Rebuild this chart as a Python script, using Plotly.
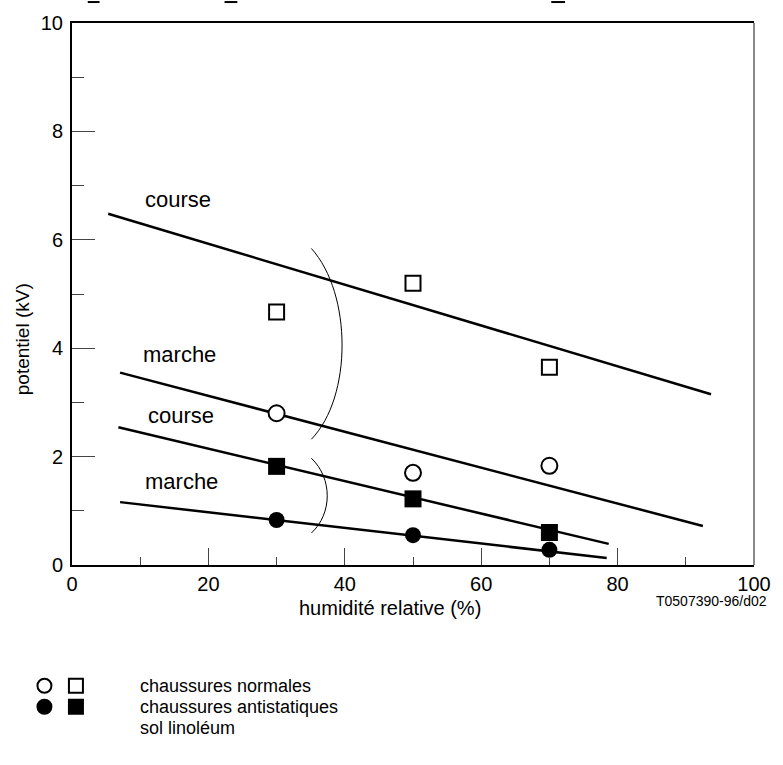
import plotly.graph_objects as go

# ---- data ----
humidity = [30, 50, 70]
normal_course = [4.67, 5.2, 3.65]      # open squares
normal_marche = [2.8, 1.7, 1.83]       # open circles
anti_course = [1.82, 1.22, 0.6]        # filled squares
anti_marche = [0.83, 0.55, 0.28]       # filled circles

# trend lines (start, end)
line_normal_course_x = [5.3, 93.7]
line_normal_course_y = [6.48, 3.15]
line_normal_marche_x = [7.05, 92.5]
line_normal_marche_y = [3.55, 0.72]
line_anti_course_x = [6.8, 78.7]
line_anti_course_y = [2.54, 0.39]
line_anti_marche_x = [7.05, 78.4]
line_anti_marche_y = [1.16, 0.13]

x_ticks = [0, 20, 40, 60, 80, 100]
y_ticks = [0, 2, 4, 6, 8, 10]

FONT = "Liberation Sans, Arial, sans-serif"

FW, FH = 783, 765
L, R, T, B = 72, 765, 22, 565   # plot area in page pixels

fig = go.Figure()

def add_line(xs, ys):
    fig.add_trace(go.Scatter(x=xs, y=ys, mode="lines",
                             line=dict(color="black", width=2.5),
                             showlegend=False, hoverinfo="skip"))

add_line(line_normal_course_x, line_normal_course_y)
add_line(line_normal_marche_x, line_normal_marche_y)
add_line(line_anti_course_x, line_anti_course_y)
add_line(line_anti_marche_x, line_anti_marche_y)

fig.add_trace(go.Scatter(x=humidity, y=normal_course, mode="markers",
                         marker=dict(symbol="square", size=15, color="white",
                                     line=dict(color="black", width=2)), showlegend=False))
fig.add_trace(go.Scatter(x=humidity, y=normal_marche, mode="markers",
                         marker=dict(symbol="circle", size=16, color="white",
                                     line=dict(color="black", width=2)), showlegend=False))
fig.add_trace(go.Scatter(x=humidity, y=anti_course, mode="markers",
                         marker=dict(symbol="square", size=17, color="black",
                                     line=dict(color="black", width=0)), showlegend=False))
fig.add_trace(go.Scatter(x=humidity, y=anti_marche, mode="markers",
                         marker=dict(symbol="circle", size=16, color="black",
                                     line=dict(color="black", width=0)), showlegend=False))

# curve labels
labels = [("course", 15.5, 6.74), ("marche", 15.7, 3.89),
          ("course", 16.0, 2.75), ("marche", 16.0, 1.54)]
for t, lx, ly in labels:
    fig.add_annotation(x=lx, y=ly, text=t, showarrow=False,
                       font=dict(family=FONT, size=22, color="black"))

shapes = []
# brackets
shapes.append(dict(type="path", xref="x", yref="y",
                   path="M 35.1 5.84 C 41.1 5.0, 41.1 3.1, 35.1 2.32",
                   line=dict(color="black", width=1)))
shapes.append(dict(type="path", xref="x", yref="y",
                   path="M 35.1 1.97 C 38.2 1.6, 38.2 0.95, 35.1 0.59",
                   line=dict(color="black", width=1)))
# right frame line (gray)
shapes.append(dict(type="line", xref="paper", yref="paper", x0=1, x1=1, y0=0, y1=1,
                   line=dict(color="#888888", width=2)))

def px2paper(px, py):
    return (px - L) / (R - L), (B - py) / (B - T)

# small fragments at the very top edge of the page
for x0p, x1p in [(88, 100), (227, 240), (559, 573)]:
    a, b = px2paper(x0p, 0)
    c, d = px2paper(x1p, 2)
    shapes.append(dict(type="rect", xref="paper", yref="paper", x0=a, x1=c, y0=d, y1=b,
                       fillcolor="black", line=dict(width=0)))

# legend markers (pixel-sized)
def mk(kind, cx, cy, filled):
    px_, py_ = px2paper(cx, cy)
    return dict(type=kind, xref="paper", yref="paper", xsizemode="pixel", ysizemode="pixel",
                xanchor=px_, yanchor=py_, x0=-7, x1=7, y0=-7, y1=7,
                fillcolor="black" if filled else "white",
                line=dict(color="black", width=2))
shapes.append(mk("circle", 44, 686, False))
shapes.append(mk("rect", 76, 686, False))
shapes.append(mk("circle", 44, 707, True))
shapes.append(mk("rect", 76, 707, True))

for t, py in [("chaussures normales", 686), ("chaussures antistatiques", 707), ("sol linoléum", 728)]:
    a, b = px2paper(139, py)
    fig.add_annotation(xref="paper", yref="paper", x=a, y=b, text=t, showarrow=False,
                       xanchor="left", yanchor="middle",
                       font=dict(family=FONT, size=18, color="black"))

# axis titles & code
a, b = px2paper(395, 608)
fig.add_annotation(xref="paper", yref="paper", x=a, y=b, text="humidité relative (%)",
                   showarrow=False, xanchor="center", yanchor="middle",
                   font=dict(family=FONT, size=20, color="black"))
a, b = px2paper(780, 601)
fig.add_annotation(xref="paper", yref="paper", x=a, y=b, text="T0507390-96/d02",
                   showarrow=False, xanchor="right", yanchor="middle",
                   font=dict(family=FONT, size=14, color="black"))
a, b = px2paper(22, 339)
fig.add_annotation(xref="paper", yref="paper", x=a, y=b, text="potentiel (kV)",
                   showarrow=False, textangle=-90, xanchor="center", yanchor="middle",
                   font=dict(family=FONT, size=19, color="black"))

fig.update_layout(
    width=FW, height=FH,
    margin=dict(l=L, r=FW - R, t=T, b=FH - B),
    paper_bgcolor="white", plot_bgcolor="white",
    showlegend=False,
    shapes=shapes,
    font=dict(family=FONT, size=18, color="black"),
)
fig.update_xaxes(range=[0, 100], tickvals=x_ticks, ticktext=[str(v) for v in x_ticks],
                 showgrid=False, zeroline=False, showline=True, linecolor="black", linewidth=2,
                 mirror=True, ticks="inside", ticklen=17, tickcolor="#444", tickwidth=1,
                 ticklabeloverflow="allow",
                 minor=dict(tickvals=[10, 30, 50, 70, 90], ticks="inside", ticklen=8,
                            tickcolor="#444", tickwidth=1, showgrid=False),
                 tickfont=dict(family=FONT, size=20, color="black"))
fig.update_yaxes(range=[0, 10], tickvals=y_ticks, ticktext=[str(v) for v in y_ticks],
                 showgrid=False, zeroline=False, showline=True, linecolor="black", linewidth=2,
                 mirror=False, ticks="inside", ticklen=23, tickcolor="#444", tickwidth=1,
                 ticklabelstandoff=3,
                 minor=dict(tickvals=[1, 3, 5, 7, 9], ticks="inside", ticklen=12,
                            tickcolor="#444", tickwidth=1, showgrid=False),
                 tickfont=dict(family=FONT, size=20, color="black"))

fig.write_html("out.html", config={"displayModeBar": False},
               post_script="document.body.style.margin='0';document.body.style.overflow='hidden';")
